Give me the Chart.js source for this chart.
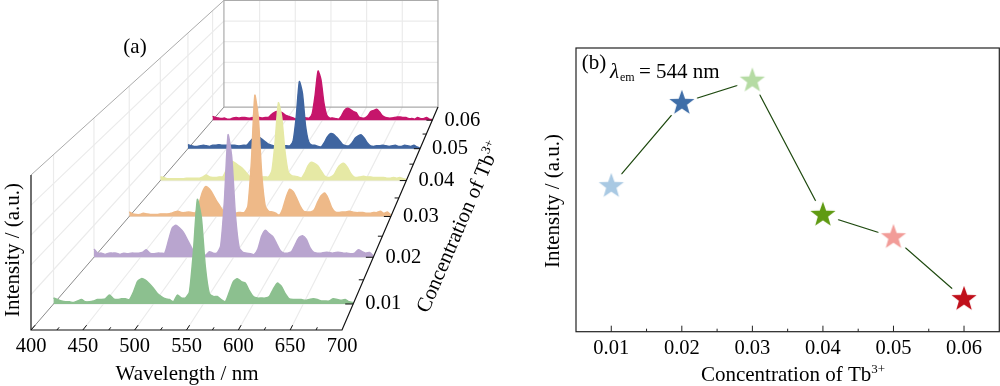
<!DOCTYPE html>
<html>
<head>
<meta charset="utf-8">
<title>Tb3+ spectra</title>
<script src="https://cdn.jsdelivr.net/npm/chart.js@4/dist/chart.umd.min.js"></script>
<style>
  html, body { margin: 0; padding: 0; background: #fff; }
  #c-spectra, #c-conc { position: absolute; top: 0; }
  #c-spectra { left: 0; }
  #c-conc { left: 510px; }
</style>
</head>
<body>
<canvas id="c-spectra" width="510" height="386"></canvas>
<canvas id="c-conc" width="490" height="386"></canvas>
<script>
// wavelength grid of the spectra, 400-700 nm every 4 nm
const wavelengths = [];
for (let w = 400; w <= 700; w += 4) wavelengths.push(w);

const concentrations = [0.01, 0.02, 0.03, 0.04, 0.05, 0.06];

// 100 = top of the wall
const spec001 = [4,3,2,1.5,1.5,1, 2,3,1.5,1.5,2, 3,3,3.5,6,3.5, 3,3.5,3.5,3,8, 15,17,16,13.5,10.5, 7,5,3.5,3,1.5, 6,4,4,8,35, 70, 58,25,7,5, 5,3,1.5,8,15, 17,15,14,9,5, 4,4,4,5,10, 14,12,7,3.5,3, 3,3,2.5,3,3.5, 3,2,2,2,3.5, 3,2.5,3,1.5,1];
const spec002 = [6,3,3,2,3,3, 3,2,3,2.5,3, 3,3,3.5,5.5,3, 2.5,3,3,3,12, 21,23,21,18,13, 8,3,1.5,2,1.5, 4,3,3,8,40, 88, 72,30,7,3.5, 3,2.5,2,6,15, 19.5,17,15,10,5, 3,3,4,9,14, 15.5,13,7,3.5,3, 3,3.5,3.5,3,3.5, 3.5,3,3,2.5,3, 5.5,4,3,3.5,1];
const spec003 = [3.5,2,1.5,1.5,2.5,2, 1.5,1.5,1.5,2,2, 2,2.5,3.5,4,3, 3,3.5,3,3,10, 19,23,21,17,12, 8,4,2,1.5,1.5, 3,3,3,8,42, 93, 76,32,8,4, 3.5,2.5,1,6,15, 21,19,14,8,4, 3.5,3.5,5,11,16, 18,14,7,3.5,3, 3.5,3.5,4,3.5,3, 3,3,2.5,2.5,3, 3,4,2.5,3.5,1];
const spec004 = [3,2.5,1.5,1.5,1.5,1.5, 1.5,1.5,2,2,2, 2,2,3,4.5,3, 2.5,2.5,3,3,8, 13,15.5,14,12,10, 7,4,2,1.5,2, 3,3,3,8,32, 63.5, 52,24,7,4, 3.5,3,2,6,12, 15,14,12,8,4, 2.5,3,5,10,13, 14,11,6,3,2.5, 3,3.5,3,3,2.5, 2.5,2.5,2.5,2,2, 2.5,2,2.5,1.5,1];
const spec005 = [3.5,2.5,2,2,2.5,3, 2.5,2,3,3,3.5, 3,3,3,3,3, 2.5,2.5,3,3,6, 9,10.5,10,8,6, 4,3,2,1.5,1.5, 2.5,2.5,2.5,7,28, 58, 48,20,6,3, 3,2,1.5,5,10, 13,12.5,10,7,3.5, 2.5,2.5,5,9,11, 12,9,5,2.5,2, 2.5,2.5,3,2.5,2, 2.5,3,2,2,3, 2.5,2,3,1.5,0.5];
const spec006 = [3.5,2.5,2,1.5,2,1, 1,2,2.5,2,2.5, 2.5,2,2,2.5,2.5, 2.5,2,2.5,2.5,5, 7,8,7.5,6.5,4.5, 3.5,2.5,1.5,1,1.5, 2.5,2,2,6,23, 45, 37,16,4.5,2, 2,1.5,1,4,9, 11,10,8,7,3, 2,2,4,8,9, 10,7.5,4,2.5,2, 2,2.5,3,3,2.5, 2.5,1.5,1.5,1,2.5, 1.5,1.5,2.5,1,0.5];
const spectra = [spec001, spec002, spec003, spec004, spec005, spec006];
const specColors = ['#8cc08f', '#b9a5cf', '#eeb988', '#e6e9a5', '#3f65a0', '#c6156b'];

const wavelengthTicks = [400, 450, 500, 550, 600, 650, 700];
const wallLevels = [22.9, 42, 61.3, 80.6];

// panel b
const peakIntensity = [51.3, 80.6, 88.5, 41.2, 33.3, 11.5];
const starColors = ['#a9c9e3', '#3f6ea8', '#b5dba3', '#5f9a12', '#f29c98', '#c00f1a'];
const concAxisTicks = [0.01, 0.02, 0.03, 0.04, 0.05, 0.06];

const FONT = '"Liberation Serif", "Times New Roman", serif';
const C0 = 0.005, C1 = 0.065;

// perspective box of panel a
function project(wl, c, h) {
    const v = (c - C0) / (C1 - C0);
    const s = 1 / (1 + 0.453 * v);
    const y0 = -385 + 715 * s;
    const xL = 31 + (330 - y0) * (193 / 223);
    return { x: xL + (wl - 400) / 300 * 311 * s, y: y0 - h / 100 * 155 * s };
}

function seg(points, color, width) {
    return { data: points, showLine: true, borderColor: color, borderWidth: width, pointRadius: 0, fill: false, tension: 0 };
}

const datasets = [];

// front axes + ticks
datasets.push(seg([project(400, C0, 100), project(400, C0, 0), project(700, C0, 0), project(700, C1, 0)], '#111', 1.2));
for (let w = 400; w < 700; w += 25) {
    const major = w % 50 === 0;
    datasets.push(seg([project(w, C0, 0), project(w, C0 + (major ? 0.0009 : 0.0005), 0)], '#111', 1));
}
for (let k = 1; k <= 11; k++) {
    const c = 0.005 + k * 0.005;
    const major = k % 2 === 1;
    datasets.push(seg([project(700, c, 0), project(major ? 692 : 695, c, 0)], '#111', 1));
}

// spectra, front row first so the back rows are drawn behind it
spectra.forEach((vals, i) => {
    const c = concentrations[i];
    const pts = vals.map((h, j) => project(wavelengths[j], c, h));
    datasets.push({
        data: pts, showLine: true, borderColor: specColors[i], backgroundColor: specColors[i],
        borderWidth: 1.4, pointRadius: 0, tension: 0.2,
        fill: { value: project(400, c, 0).y }
    });
});

// box outline
const boxGray = '#ababab';
datasets.push(seg([project(400, C1, 0), project(400, C1, 100), project(700, C1, 100), project(700, C1, 0), project(400, C1, 0)], boxGray, 1.2));
datasets.push(seg([project(400, C0, 100), project(400, C1, 100)], boxGray, 1));
datasets.push(seg([project(400, C0, 0), project(400, C1, 0)], '#8a8a8a', 1));

// grid on walls and floor
const gridCol = '#ebebeb';
wallLevels.forEach(h => {
    datasets.push(seg([project(400, C0, h), project(400, C1, h), project(700, C1, h)], gridCol, 1.2));
});
concentrations.forEach(c => {
    datasets.push(seg([project(400, c, 100), project(400, c, 0), project(700, c, 0)], gridCol, 1.2));
});
wavelengthTicks.slice(1, -1).forEach(w => {
    datasets.push(seg([project(w, C0, 0), project(w, C1, 0), project(w, C1, 100)], gridCol, 1.2));
});

function supText(ctx, base, sup, x, y, size) {
    // centred on x, normal text followed by a small raised part
    ctx.font = size + 'px ' + FONT;
    const wBase = ctx.measureText(base).width;
    ctx.font = (size * 0.62) + 'px ' + FONT;
    const wSup = ctx.measureText(sup).width;
    const x0 = x - (wBase + wSup) / 2;
    ctx.textAlign = 'left';
    ctx.textBaseline = 'alphabetic';
    ctx.font = size + 'px ' + FONT;
    ctx.fillText(base, x0, y);
    ctx.font = (size * 0.62) + 'px ' + FONT;
    ctx.fillText(sup, x0 + wBase, y - size * 0.36);
}

const spectraText = {
    id: 'spectraText',
    afterDraw(chart) {
        const ctx = chart.ctx;
        ctx.save();
        ctx.fillStyle = '#000';
        ctx.textAlign = 'center';
        ctx.textBaseline = 'middle';
        ctx.font = '20.5px ' + FONT;
        wavelengthTicks.forEach(w => {
            const p = project(w, C0, 0);
            ctx.fillText(String(w), p.x, p.y + 17);
        });
        concentrations.forEach(c => {
            const p = project(700, c, 0);
            ctx.fillText(c.toFixed(2), p.x + 30, p.y);
        });
        ctx.font = '21px ' + FONT;
        ctx.fillText('Wavelength / nm', 187, 374);
        ctx.fillText('(a)', 135, 47);
        ctx.save();
        ctx.translate(13, 250);
        ctx.rotate(-Math.PI / 2);
        ctx.fillText('Intensity / (a.u.)', 0, 0);
        ctx.restore();
        ctx.save();
        ctx.translate(459, 227);
        ctx.rotate(-66.7 * Math.PI / 180);
        supText(ctx, 'Concentration of Tb', '3+', 0, 6, 21);
        ctx.restore();
        ctx.restore();
    }
};

new Chart(document.getElementById('c-spectra'), {
    type: 'scatter',
    data: { datasets },
    options: {
        responsive: false, animation: false,
        layout: { padding: 0, autoPadding: false },
        plugins: { legend: { display: false }, tooltip: { enabled: false } },
        scales: {
            x: { type: 'linear', display: false, min: 0, max: 510 },
            y: { type: 'linear', display: false, min: 0, max: 386, reverse: true }
        }
    },
    plugins: [spectraText]
});

// star with a white disc behind it, the disc makes the gap in the line
function starImage(color) {
    const cv = document.createElement('canvas');
    cv.width = 36; cv.height = 36;
    const g = cv.getContext('2d');
    g.fillStyle = '#fff';
    g.beginPath(); g.arc(18, 18, 16, 0, Math.PI * 2); g.fill();
    g.fillStyle = color;
    g.beginPath();
    for (let i = 0; i < 10; i++) {
        const r = i % 2 ? 5.4 : 13.2;
        const a = -Math.PI / 2 + i * Math.PI / 5;
        const px = 18 + r * Math.cos(a), py = 18 + r * Math.sin(a);
        if (i === 0) g.moveTo(px, py); else g.lineTo(px, py);
    }
    g.closePath(); g.fill();
    return cv;
}

const concDecor = {
    id: 'concDecor',
    afterDraw(chart) {
        const ctx = chart.ctx, a = chart.chartArea, xs = chart.scales.x;
        ctx.save();
        ctx.strokeStyle = '#222';
        ctx.lineWidth = 1.2;
        ctx.strokeRect(a.left, a.top, a.right - a.left, a.bottom - a.top);
        ctx.lineWidth = 1;
        for (let k = 1; k <= 11; k++) {
            const px = xs.getPixelForValue(0.005 + k * 0.005);
            ctx.beginPath();
            ctx.moveTo(px, a.bottom);
            ctx.lineTo(px, a.bottom - (k % 2 ? 6 : 3));
            ctx.stroke();
        }
        ctx.fillStyle = '#000';
        ctx.textAlign = 'center';
        ctx.textBaseline = 'middle';
        ctx.font = '21px ' + FONT;
        ctx.fillText('(b)', 84, 63);
        ctx.textAlign = 'left';
        ctx.textBaseline = 'alphabetic';
        ctx.font = 'italic 21px ' + FONT;
        ctx.fillText('\u03bb', 100, 78);
        ctx.font = '12px ' + FONT;
        ctx.fillText('em', 110, 81);
        ctx.font = '21px ' + FONT;
        ctx.fillText('= 544 nm', 129, 78);
        supText(ctx, 'Concentration of Tb', '3+', 283, 381, 21);
        ctx.save();
        ctx.translate(43, 201);
        ctx.rotate(-Math.PI / 2);
        ctx.textAlign = 'center';
        ctx.textBaseline = 'middle';
        ctx.font = '21px ' + FONT;
        ctx.fillText('Intensity / (a.u.)', 0, 0);
        ctx.restore();
        ctx.restore();
    }
};

new Chart(document.getElementById('c-conc'), {
    type: 'scatter',
    data: {
        datasets: [{
            data: concentrations.map((c, i) => ({ x: c, y: peakIntensity[i] })),
            showLine: true, borderColor: '#1f4a10', borderWidth: 1.2, tension: 0,
            pointStyle: starColors.map(starImage), pointRadius: 18, pointBackgroundColor: starColors
        }]
    },
    options: {
        responsive: false, animation: false,
        // stars are big, autoPadding would pull the right edge in
        layout: { padding: { left: 66, right: 0.7, top: 48, bottom: 0 }, autoPadding: false },
        plugins: { legend: { display: false }, tooltip: { enabled: false } },
        scales: {
            x: {
                type: 'linear', min: C0, max: C1,
                grid: { display: false, drawTicks: false },
                border: { display: false },
                afterBuildTicks: s => { s.ticks = concAxisTicks.map(v => ({ value: v })); },
                afterFit: s => { s.height = 54.3; },
                ticks: {
                    autoSkip: false, maxRotation: 0, padding: 5, color: '#000',
                    font: { family: FONT, size: 20.5 },
                    callback: v => Number(v).toFixed(2)
                }
            },
            y: { type: 'linear', display: false, min: 0, max: 100 }
        }
    },
    plugins: [concDecor]
});
</script>
</body>
</html>
